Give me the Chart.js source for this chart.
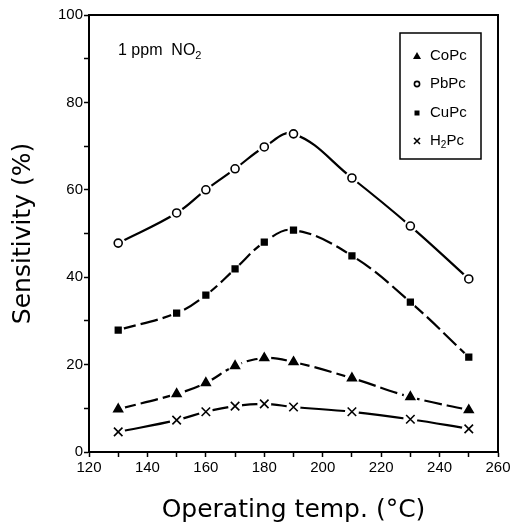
<!DOCTYPE html>
<html>
<head>
<meta charset="utf-8">
<script src="https://cdn.jsdelivr.net/npm/chart.js@4.4.1/dist/chart.umd.min.js"></script>
<style>
  html, body { margin: 0; background: #fff; }
  #wrap { width: 521px; height: 529px; }
</style>
</head>
<body>
<div id="wrap"><canvas id="chart"></canvas></div>
<script>
// values (1 ppm NO2)
const temps = [130, 150, 160, 170, 180, 190, 210, 230, 250];
const coPc  = [9.8, 13.3, 15.8, 19.7, 21.5, 20.6, 16.9, 12.6, 9.6];
const pbPc  = [47.8, 54.7, 60.0, 64.8, 69.8, 72.8, 62.7, 51.7, 39.6];
const cuPc  = [27.9, 31.8, 35.9, 41.9, 48.0, 50.8, 44.9, 34.3, 21.7];
const h2Pc  = [4.6, 7.3, 9.2, 10.5, 11.0, 10.3, 9.2, 7.5, 5.3];
const seriesNames = ['CoPc', 'PbPc', 'CuPc', 'H₂Pc'];
const xTicks = [120, 140, 160, 180, 200, 220, 240, 260];
const yTicks = [0, 20, 40, 60, 80, 100];

const INK = '#000';
const pts = vals => temps.map((t, i) => ({ x: t, y: vals[i] }));

function series(label, vals, style, radius, fill, dash, gap) {
  return {
    label, data: pts(vals),
    borderColor: INK, borderWidth: 2.2, borderDash: dash,
    tension: 0.4,
    pointStyle: style, pointRadius: radius, pointHoverRadius: radius,
    pointBackgroundColor: fill, pointBorderColor: INK, pointBorderWidth: 1.6,
    gap
  };
}

// white halo behind each marker, the outer frame, the note and the legend box
const decor = {
  id: 'decor',
  afterDatasetsDraw(chart) {
    const ctx = chart.ctx;
    const a = chart.chartArea;
    chart.data.datasets.forEach((ds, i) => {
      chart.getDatasetMeta(i).data.forEach(p => {
        ctx.save();
        ctx.fillStyle = '#fff';
        ctx.beginPath();
        ctx.arc(p.x, p.y, ds.gap, 0, Math.PI * 2);
        ctx.fill();
        ctx.restore();
        p.draw(ctx, a);
      });
    });

    ctx.save();
    ctx.strokeStyle = INK;
    ctx.lineWidth = 2;
    ctx.strokeRect(a.left, a.top, a.right - a.left, a.bottom - a.top);

    // note
    ctx.fillStyle = INK;
    ctx.textBaseline = 'middle';
    ctx.font = '16px "Liberation Sans", Arial, sans-serif';
    ctx.fillText('1 ppm  NO', a.left + 29, a.top + 36);
    const w = ctx.measureText('1 ppm  NO').width;
    ctx.font = '11px "Liberation Sans", Arial, sans-serif';
    ctx.fillText('2', a.left + 29 + w, a.top + 41);

    // legend
    const bx = 400, by = 33, bw = 81, bh = 126;
    ctx.lineWidth = 1.5;
    ctx.strokeRect(bx, by, bw, bh);
    const rows = [56, 84, 113, 141];
    ctx.font = '15px "Liberation Sans", Arial, sans-serif';
    chart.data.datasets.forEach((ds, i) => {
      const y = rows[i], x = 417;
      ctx.lineWidth = 1.6;
      ctx.fillStyle = INK;
      ctx.beginPath();
      if (ds.pointStyle === 'triangle') {
        ctx.moveTo(x, y - 4); ctx.lineTo(x + 4, y + 3); ctx.lineTo(x - 4, y + 3); ctx.closePath(); ctx.fill();
      } else if (ds.pointStyle === 'circle') {
        ctx.arc(x, y, 2.6, 0, Math.PI * 2); ctx.stroke();
      } else if (ds.pointStyle === 'rect') {
        ctx.rect(x - 2.5, y - 2.5, 5, 5); ctx.fill();
      } else {
        ctx.moveTo(x - 3, y - 3); ctx.lineTo(x + 3, y + 3);
        ctx.moveTo(x + 3, y - 3); ctx.lineTo(x - 3, y + 3); ctx.stroke();
      }
      ctx.fillStyle = INK;
      if (ds.label === 'H₂Pc') {
        ctx.fillText('H', 430, y);
        const hw = ctx.measureText('H').width;
        ctx.font = '10px "Liberation Sans", Arial, sans-serif';
        ctx.fillText('2', 430 + hw, y + 4);
        const sw = ctx.measureText('2').width;
        ctx.font = '15px "Liberation Sans", Arial, sans-serif';
        ctx.fillText('Pc', 430 + hw + sw, y);
      } else {
        ctx.fillText(ds.label, 430, y);
      }
    });
    ctx.restore();
  }
};

const tickFont = { family: '"Liberation Sans", Arial, sans-serif', size: 15 };
const titleFont = { family: '"DejaVu Sans", sans-serif', size: 25 };

new Chart(document.getElementById('chart'), {
  type: 'line',
  data: {
    datasets: [
      series(seriesNames[0], coPc, 'triangle', 5, INK, [18, 5], 7),
      series(seriesNames[1], pbPc, 'circle', 4, '#fff', [], 7),
      series(seriesNames[2], cuPc, 'rect', 4, INK, [18, 5], 6),
      series(seriesNames[3], h2Pc, 'crossRot', 6, INK, [], 7)
    ]
  },
  options: {
    responsive: true,
    maintainAspectRatio: false,
    animation: false,
    layout: { padding: { left: 0, top: 15, right: 23, bottom: 0 } },
    plugins: {
      legend: { display: false },
      tooltip: { enabled: false }
    },
    scales: {
      x: {
        type: 'linear', min: 120, max: 260,
        afterFit: s => { s.height = 77; },
        afterBuildTicks: s => {
          s.ticks = [];
          for (let v = 120; v <= 260; v += 10) s.ticks.push({ value: v });
        },
        ticks: {
          color: INK, font: tickFont, padding: 2, autoSkip: false, maxRotation: 0,
          callback: v => xTicks.includes(v) ? String(v) : ''
        },
        grid: { drawOnChartArea: false, color: INK, tickLength: 5, tickWidth: 1.5 },
        border: { color: INK, width: 2 },
        title: { display: true, text: 'Operating temp. (°C)', color: INK, font: titleFont, padding: { top: 8 } }
      },
      y: {
        min: 0, max: 100,
        afterFit: s => { s.width = 89; },
        afterBuildTicks: s => {
          s.ticks = [];
          for (let v = 0; v <= 100; v += 10) s.ticks.push({ value: v });
        },
        ticks: {
          color: INK, font: tickFont, padding: 1, autoSkip: false,
          callback: v => yTicks.includes(v) ? String(v) : ''
        },
        grid: { drawOnChartArea: false, color: INK, tickLength: 5, tickWidth: 1.5 },
        border: { color: INK, width: 2 },
        title: { display: true, text: 'Sensitivity (%)', color: INK, font: titleFont, padding: { top: 8, bottom: 4 } }
      }
    }
  },
  plugins: [decor]
});
</script>
</body>
</html>
